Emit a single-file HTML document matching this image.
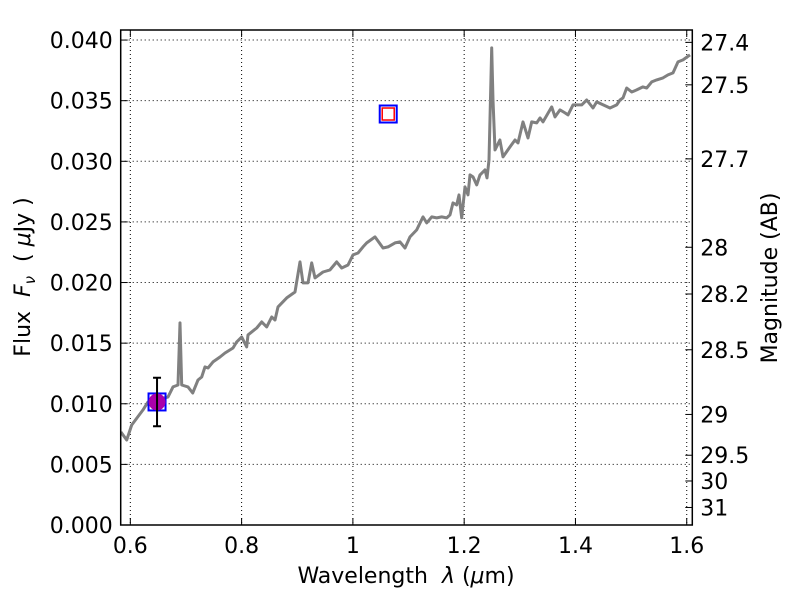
<!DOCTYPE html>
<html><head><meta charset="utf-8">
<style>
html,body{margin:0;padding:0;background:#fff;}
svg{display:block;font-family:"DejaVu Sans","Liberation Sans",sans-serif;}
</style></head>
<body>
<svg id="chart" width="800" height="600" xmlns="http://www.w3.org/2000/svg"></svg>
<script>
const wavelengths=[0.583,0.5935,0.6025,0.6228,0.6318,0.6677,0.6767,0.6857,0.6893,0.6924,0.7037,0.7121,0.7217,0.7283,0.7342,0.7396,0.7486,0.7612,0.7702,0.7846,0.7912,0.8002,0.8092,0.8115,0.8271,0.8361,0.8451,0.8541,0.86,0.8654,0.8811,0.896,0.905,0.9103,0.9193,0.926,0.9319,0.9463,0.9589,0.9709,0.9799,0.9912,1.0002,1.0092,1.0182,1.0248,1.0397,1.0541,1.0631,1.0757,1.0847,1.0936,1.1026,1.1147,1.126,1.1326,1.1416,1.1506,1.1596,1.1686,1.1745,1.1799,1.1866,1.1907,1.1956,1.2015,1.2069,1.2104,1.2158,1.2225,1.2284,1.2374,1.241,1.2446,1.2494,1.2518,1.2554,1.2643,1.2697,1.2823,1.2913,1.2967,1.3057,1.3147,1.3213,1.3303,1.3362,1.3416,1.3573,1.3632,1.3722,1.3812,1.3866,1.3956,1.4112,1.4202,1.4315,1.4381,1.4621,1.4741,1.48,1.4854,1.4921,1.5011,1.5101,1.5213,1.528,1.537,1.546,1.5573,1.5663,1.5753,1.5843,1.5932,1.6058];
const fluxes=[0.00767,0.00701,0.00825,0.00949,0.01015,0.01056,0.01139,0.01155,0.01667,0.01155,0.01139,0.01089,0.01196,0.01221,0.01304,0.01295,0.01345,0.01386,0.01419,0.0146,0.0151,0.01551,0.01469,0.01568,0.01625,0.01675,0.01634,0.01716,0.01691,0.01799,0.01873,0.01922,0.0217,0.01997,0.01997,0.02162,0.02038,0.02087,0.02104,0.0217,0.0212,0.02145,0.02228,0.02244,0.02294,0.02327,0.02376,0.02285,0.02294,0.02327,0.02335,0.02285,0.02376,0.02434,0.02541,0.02492,0.02541,0.02533,0.02541,0.02533,0.02558,0.02657,0.0264,0.02723,0.02533,0.02789,0.02723,0.02888,0.02871,0.02805,0.02888,0.02929,0.02863,0.03011,0.03935,0.03506,0.03094,0.03176,0.03036,0.03119,0.03176,0.03152,0.03325,0.03193,0.03325,0.03317,0.03358,0.03325,0.03449,0.03366,0.03424,0.03399,0.03383,0.03465,0.03465,0.03506,0.0344,0.0349,0.0344,0.03465,0.03506,0.03523,0.03605,0.03572,0.03589,0.03614,0.03605,0.03655,0.03671,0.03688,0.03713,0.03729,0.0382,0.03836,0.03878];
const photLambda=[0.648];
const photFlux=[0.01015];
const photErr=[0.002];
const modelLambda=[0.648,1.0635];
const modelFlux=[0.01015,0.0339];
const xTicks=[0.6,0.8,1.0,1.2,1.4,1.6];
const xTickLabels=["0.6","0.8","1","1.2","1.4","1.6"];
const yTicks=[0,0.005,0.01,0.015,0.02,0.025,0.03,0.035,0.04];
const yTickLabels=["0.000","0.005","0.010","0.015","0.020","0.025","0.030","0.035","0.040"];
const magTicks=[27.4,27.5,27.7,28,28.2,28.5,29,29.5,30,31];
const magTickLabels=["27.4","27.5","27.7","28","28.2","28.5","29","29.5","30","31"];

const L=120.7,R=692.3,T=30,B=525;
const X0=0.5827,X1=1.610,Y0=0,Y1=0.04083;
const sx=v=>L+(v-X0)/(X1-X0)*(R-L);
const sy=v=>B-(v-Y0)/(Y1-Y0)*(B-T);
const magToFlux=m=>Math.pow(10,(23.9-m)/2.5);
const svg=document.getElementById('chart');
const NS='http://www.w3.org/2000/svg';
function mk(tag,attrs,parent){const e=document.createElementNS(NS,tag);for(const k in attrs)e.setAttribute(k,attrs[k]);(parent||svg).appendChild(e);return e;}

const grid=mk('g',{});


xTicks.forEach(t=>{const l=mk('line',{x1:sx(t),x2:sx(t),y1:T,y2:B,stroke:'#000','stroke-width':1,'stroke-dasharray':'1,3'},grid);

});
yTicks.forEach(t=>{const l=mk('line',{x1:L,x2:R,y1:sy(t),y2:sy(t),stroke:'#000','stroke-width':1,'stroke-dasharray':'1,3'},grid);

});

const pts=wavelengths.map((w,i)=>sx(w).toFixed(1)+','+sy(fluxes[i]).toFixed(1)).join(' ');
const clip=mk('clipPath',{id:'clip'});mk('rect',{x:L,y:T,width:R-L,height:B-T},clip);
const line=mk('polyline',{points:pts,fill:'none',stroke:'#808080','stroke-width':3,'stroke-linejoin':'round','clip-path':'url(#clip)'});



modelLambda.forEach((w,i)=>{
 const b=mk('rect',{x:sx(w)-8.5,y:sy(modelFlux[i])-8.5,width:17,height:17,fill:'none',stroke:'#0000ff','stroke-width':2});
 
 
});
const rs=mk('rect',{x:sx(modelLambda[1])-6,y:sy(modelFlux[1])-6,width:12,height:12,fill:'#fff',stroke:'#ff0000','stroke-width':1.5});



photLambda.forEach((w,i)=>{
 const x=sx(w),y1=sy(photFlux[i]+photErr[i]),y2=sy(photFlux[i]-photErr[i]);
 const c=mk('circle',{cx:x,cy:sy(photFlux[i]),r:8.5,fill:'#aa00aa'});
 
 
 const e=mk('path',{d:`M${x},${y1}V${y2}M${x-4},${y1}H${x+4}M${x-4},${y2}H${x+4}`,stroke:'#000','stroke-width':2,fill:'none'});
 
 
});

const fr=mk('rect',{x:L,y:T,width:R-L,height:B-T,fill:'none',stroke:'#000','stroke-width':1.5});



const FS=22;
xTicks.forEach((t,i)=>{const x=sx(t);
 mk('path',{d:`M${x},${B}v-7M${x},${T}v7`,stroke:'#000','stroke-width':1});
 const tx=mk('text',{x:x,y:B+28,'font-size':FS,'text-anchor':'middle'});tx.textContent=xTickLabels[i];
 
 });
yTicks.forEach((t,i)=>{const y=sy(t);
 mk('path',{d:`M${L},${y}h7`,stroke:'#000','stroke-width':1});
 const tx=mk('text',{x:L-8,y:y+8,'font-size':FS,'text-anchor':'end'});tx.textContent=yTickLabels[i];
 
 });
magTicks.forEach((m,i)=>{const y=sy(magToFlux(m));
 mk('path',{d:`M${R},${y}h-7`,stroke:'#000','stroke-width':1});
 const tx=mk('text',{x:R+8,y:y+8,'font-size':FS,'text-anchor':'start'});tx.textContent=magTickLabels[i];
 
 });

const xt=mk('text',{x:406,y:583,'font-size':FS,'text-anchor':'middle'});
xt.innerHTML='Wavelength&#160;&#160;<tspan font-style="italic">λ</tspan> (<tspan font-style="italic">μ</tspan>m)';


const yt=mk('text',{x:0,y:0,'font-size':FS,'text-anchor':'middle',transform:'translate(30,277) rotate(-90)'});
yt.innerHTML='Flux&#160;&#160;<tspan font-style="italic">F</tspan><tspan font-style="italic" font-size="15" dy="5">ν</tspan><tspan dy="-5">&#160;&#160;( </tspan><tspan font-style="italic">μ</tspan>Jy )';


const rt=mk('text',{x:0,y:0,'font-size':FS,'text-anchor':'middle',transform:'translate(777,278) rotate(-90)'});
rt.textContent='Magnitude (AB)';


</script>
</body></html>
